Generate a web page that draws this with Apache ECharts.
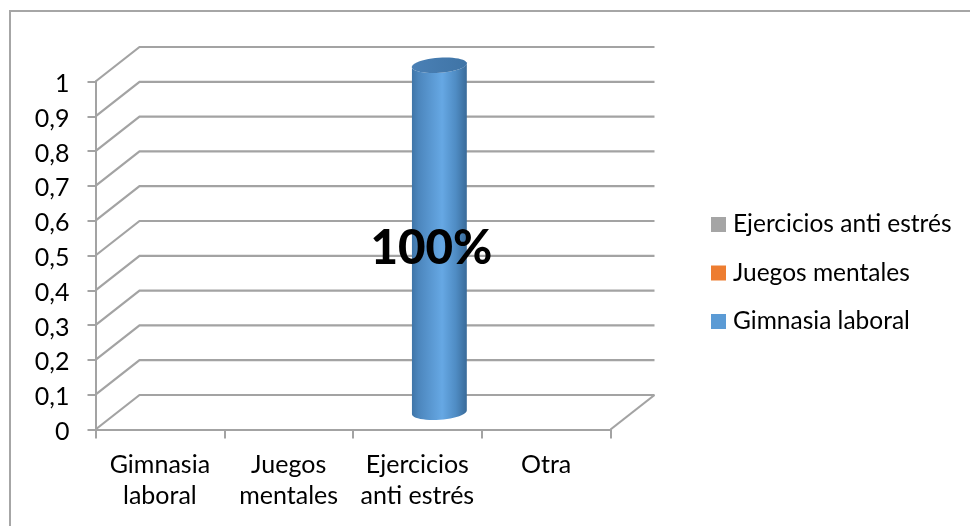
<!DOCTYPE html>
<html><head><meta charset="utf-8">
<style>html,body{margin:0;padding:0;background:#fff}#c{width:970px;height:526px}</style>
<script src="https://cdn.jsdelivr.net/npm/echarts@6/dist/echarts.min.js"></script>
</head><body><div id="c"></div>
<script>
const categories = ['Gimnasia\nlaboral', 'Juegos\nmentales', 'Ejercicios\nanti estrés', 'Otra'];
const gimnasiaLaboral = [0, 0, 1, 0];
const juegosMentales = [0, 0, 0, 0];
const ejerciciosAntiEstres = [0, 0, 0, 0];
const yTicks = [0, 0.1, 0.2, 0.3, 0.4, 0.5, 0.6, 0.7, 0.8, 0.9, 1];

const DX = 44, DY = -34.5, RX = 27.5, RY = 7.5, TILT = -0.07;
const FONT = 'Lato';
const GRID = '#a3a3a3';

function wallItem(params, api) {
  const v = api.value(0);
  const a = api.coord([0, v]);
  const x0 = params.coordSys.x, x1 = x0 + params.coordSys.width;
  const y = a[1];
  const children = [{
    type: 'polyline',
    shape: { points: [[x0, y], [x0 + DX, y + DY], [x1 + DX, y + DY]] },
    style: { stroke: GRID, lineWidth: 2.2, fill: null }
  }];
  if (v === 0) {
    children.push({
      type: 'line',
      shape: { x1: x1, y1: y, x2: x1 + DX, y2: y + DY },
      style: { stroke: GRID, lineWidth: 2.2 }
    });
  }
  return { type: 'group', children };
}

function ellipsePoints(cx, cy) {
  const pts = [];
  for (let i = 0; i <= 48; i++) {
    const t = i / 48 * Math.PI * 2;
    const ex = RX * Math.cos(t), ey = RY * Math.sin(t);
    pts.push([cx + ex * Math.cos(TILT) - ey * Math.sin(TILT),
              cy + ex * Math.sin(TILT) + ey * Math.cos(TILT)]);
  }
  return pts;
}

function cylinderItem(params, api) {
  const v = api.value(1);
  if (!v) return null;
  const top = api.coord([api.value(0), v]);
  const base = api.coord([api.value(0), 0]);
  const cx = top[0] + DX / 2, yt = top[1] + DY / 2 + 1, yb = base[1] + DY / 2;
  const upper = ellipsePoints(cx, yt);
  const lower = ellipsePoints(cx, yb);
  const bottomHalf = lower.slice(0, 25);
  const topHalf = upper.slice(0, 25).reverse();
  const body = bottomHalf.concat(topHalf);
  return {
    type: 'group',
    children: [
      {
        type: 'polygon',
        shape: { points: body },
        style: {
          fill: {
            type: 'linear', x: 0, y: 0, x2: 1, y2: 0,
            colorStops: [
              { offset: 0, color: '#3f75a8' },
              { offset: 0.12, color: '#4c86bd' },
              { offset: 0.55, color: '#66a8e4' },
              { offset: 0.8, color: '#4f8cc4' },
              { offset: 1, color: '#3a6b99' }
            ]
          }
        }
      },
      {
        type: 'polygon',
        shape: { points: upper },
        style: {
          fill: {
            type: 'linear', x: 0, y: 0, x2: 1, y2: 0,
            colorStops: [
              { offset: 0, color: '#4a80b5' },
              { offset: 1, color: '#3f74a6' }
            ]
          }
        }
      }
    ]
  };
}

function labelItem(params, api) {
  const v = api.value(1);
  if (!v) return null;
  const c = api.coord([api.value(0), v / 2]);
  return {
    type: 'text',
    style: {
      x: c[0] + 14, y: c[1] - 7,
      text: Math.round(v * 100) + '%',
      fill: '#000', align: 'center', verticalAlign: 'middle',
      font: '900 47.5px ' + FONT
    }
  };
}

const catData = arr => arr.map((v, i) => [i, v]);

const option = {
  animation: false,
  backgroundColor: '#fff',
  textStyle: { fontFamily: FONT },
  grid: { left: 95.5, top: 81.5, width: 515, height: 348, containLabel: false },
  graphic: [{
    type: 'polyline', silent: true,
    shape: { points: [[970, 11], [10, 11], [10, 526]] },
    style: { stroke: '#a6a6a6', lineWidth: 2, fill: null }
  }],
  legend: {
    orient: 'vertical', left: 706, top: 207, itemGap: 23.5,
    itemWidth: 15, itemHeight: 15, icon: 'rect',
    data: ['Ejercicios anti estrés', 'Juegos mentales', 'Gimnasia laboral'],
    textStyle: { fontSize: 24.5, color: '#000', fontFamily: FONT, padding: [0, 0, 0, 2] }
  },
  xAxis: {
    type: 'category', data: categories,
    axisLine: { lineStyle: { color: GRID, width: 2 } },
    axisTick: { show: true, length: 9, lineStyle: { color: GRID, width: 2 } },
    axisLabel: { color: '#000', fontSize: 25, fontFamily: FONT, margin: 20, lineHeight: 31, interval: 0 }
  },
  yAxis: {
    type: 'value', min: 0, max: 1, interval: 0.1,
    axisLine: { show: true, lineStyle: { color: GRID, width: 2 } },
    axisTick: { show: true, length: 8, lineStyle: { color: GRID, width: 2 } },
    splitLine: { show: false },
    axisLabel: {
      color: '#000', fontSize: 25, fontFamily: FONT, margin: 26, verticalAlign: 'top', lineHeight: 5,
      formatter: v => String(+v.toFixed(1)).replace('.', ',')
    }
  },
  series: [
    { type: 'custom', name: 'walls', coordinateSystem: 'cartesian2d', renderItem: wallItem,
      data: yTicks.map(v => [v]), encode: { y: 0 }, silent: true, z: 1 },
    { type: 'custom', name: 'Gimnasia laboral', coordinateSystem: 'cartesian2d', renderItem: cylinderItem,
      data: catData(gimnasiaLaboral), encode: { x: 0, y: 1 }, itemStyle: { color: '#5b9bd5' }, z: 3 },
    { type: 'custom', name: 'Juegos mentales', coordinateSystem: 'cartesian2d', renderItem: cylinderItem,
      data: catData(juegosMentales), encode: { x: 0, y: 1 }, itemStyle: { color: '#ed7d31' }, z: 3 },
    { type: 'custom', name: 'Ejercicios anti estrés', coordinateSystem: 'cartesian2d', renderItem: cylinderItem,
      data: catData(ejerciciosAntiEstres), encode: { x: 0, y: 1 }, itemStyle: { color: '#a5a5a5' }, z: 3 },
    { type: 'custom', name: 'labels', coordinateSystem: 'cartesian2d', renderItem: labelItem,
      data: catData(gimnasiaLaboral), encode: { x: 0, y: 1 }, silent: true, z: 5 }
  ]
};
const chart = echarts.init(document.getElementById('c'), null, { renderer: 'canvas' });
chart.setOption(option);
</script></body></html>
